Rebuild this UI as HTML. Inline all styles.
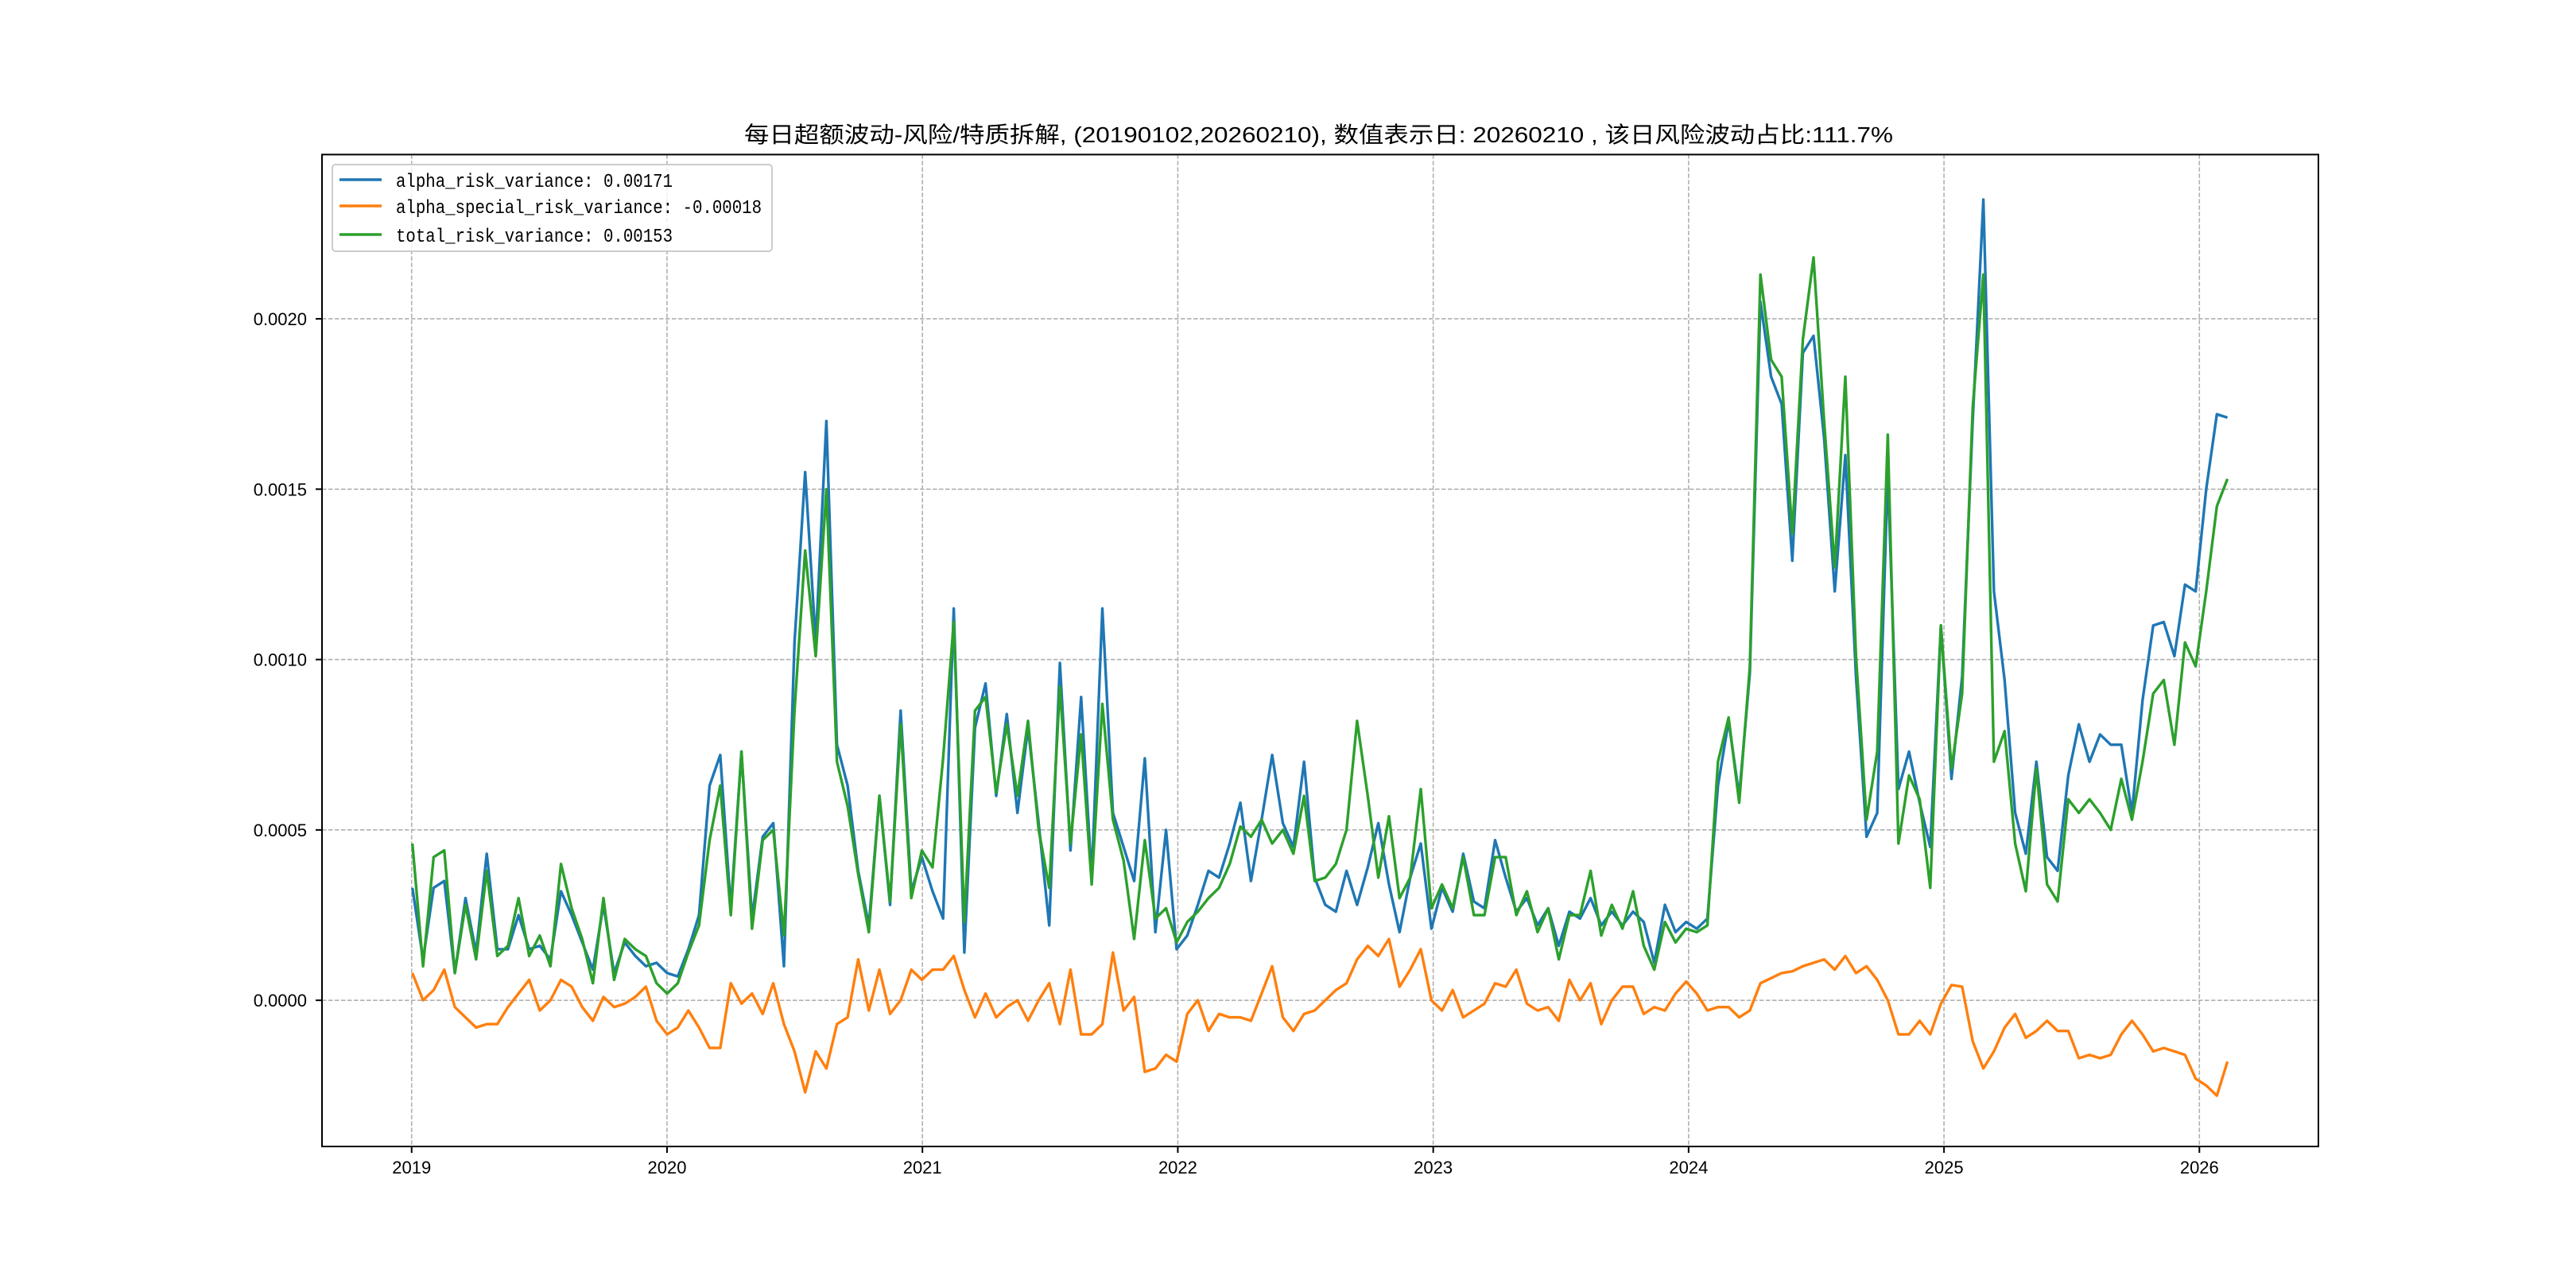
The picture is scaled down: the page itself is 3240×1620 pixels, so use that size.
<!DOCTYPE html>
<html><head><meta charset="utf-8"><title>每日超额波动</title>
<style>html,body{margin:0;padding:0;background:#fff;}svg{display:block;}</style></head>
<body>
<svg id="chart" xmlns="http://www.w3.org/2000/svg" width="3240" height="1620" viewBox="0 0 3240 1620">
<rect x="0" y="0" width="3240" height="1620" fill="#fff"/>
<text x="936" y="179" font-family="'Liberation Sans','Noto Sans CJK SC',sans-serif" font-size="28" textLength="1445" lengthAdjust="spacingAndGlyphs">每日超额波动-风险/特质拆解, (20190102,20260210),  数值表示日: 20260210 , 该日风险波动占比:111.7%</text>
<defs><clipPath id="plotclip"><rect x="405" y="194.4" width="2511" height="1247.6"/></clipPath></defs>
<g id="grid"></g>
<g id="series" clip-path="url(#plotclip)"></g>
<rect x="405" y="194.4" width="2511" height="1247.6" fill="none" stroke="#000" stroke-width="2"/>
<g id="ticks"></g>
<g>
 <rect x="418" y="207" width="553" height="109" rx="4" fill="#fff" fill-opacity="0.8" stroke="#cccccc" stroke-width="2"/>
 <line x1="427" y1="226" x2="480" y2="226" stroke="#1f77b4" stroke-width="3.4"/>
 <text x="498" y="235" font-family="'Liberation Mono',monospace" font-size="24" textLength="348" lengthAdjust="spacingAndGlyphs">alpha_risk_variance: 0.00171</text>
 <line x1="427" y1="259" x2="480" y2="259" stroke="#ff7f0e" stroke-width="3.4"/>
 <text x="498" y="268" font-family="'Liberation Mono',monospace" font-size="24" textLength="460" lengthAdjust="spacingAndGlyphs">alpha_special_risk_variance: -0.00018</text>
 <line x1="427" y1="295" x2="480" y2="295" stroke="#2ca02c" stroke-width="3.4"/>
 <text x="498" y="304" font-family="'Liberation Mono',monospace" font-size="24" textLength="348" lengthAdjust="spacingAndGlyphs">total_risk_variance: 0.00153</text>
</g>
</svg>
<script>
// values in units of 1e-4
const startYear = 2019.003;
const endYear = 2026.11;
const xTickLabels = ["2019","2020","2021","2022","2023","2024","2025","2026"];
const yTickValues = [0, 5, 10, 15, 20];
const yTickLabels = ["0.0000","0.0005","0.0010","0.0015","0.0020"];
const alphaRisk = [
3.3,1.2,3.3,3.5,0.8,3.0,1.4,4.3,1.5,1.5,2.5,1.5,1.6,1.2,3.2,2.5,1.7,0.9,2.8,0.8,1.7,1.3,1.0,1.1,
0.8,0.7,1.5,2.5,6.3,7.2,2.7,7.3,2.4,4.8,5.2,1.0,10.5,15.5,10.5,17.0,7.5,6.3,3.8,2.2,6.0,2.8,8.5,3.2,
4.2,3.2,2.4,11.5,1.4,8.0,9.3,6.0,8.4,5.5,8.0,5.2,2.2,9.9,4.4,8.9,3.6,11.5,5.5,4.5,3.5,7.1,2.0,5.0,
1.5,1.9,2.8,3.8,3.6,4.6,5.8,3.5,5.3,7.2,5.2,4.5,7.0,3.6,2.8,2.6,3.8,2.8,3.9,5.2,3.4,2.0,3.6,4.6,
2.1,3.3,2.6,4.3,2.9,2.7,4.7,3.6,2.6,3.0,2.2,2.7,1.6,2.6,2.4,3.0,2.2,2.6,2.2,2.6,2.3,1.1,2.8,2.0,
2.3,2.1,2.4,6.3,8.2,6.0,9.6,20.5,18.3,17.5,12.9,19.0,19.5,16.5,12.0,16.0,9.5,4.8,5.5,15.5,6.2,7.3,5.8,4.5,
11.0,6.5,9.5,17.0,23.5,12.0,9.4,5.5,4.3,7.0,4.2,3.8,6.6,8.1,7.0,7.8,7.5,7.5,5.5,8.8,11.0,11.1,10.1,12.2,
12.0,15.0,17.2,17.1];
const specialRisk = [
0.8,0,0.3,0.9,-0.2,-0.5,-0.8,-0.7,-0.7,-0.2,0.2,0.6,-0.3,0,0.6,0.4,-0.2,-0.6,0.1,-0.2,-0.1,0.1,0.4,-0.6,
-1.0,-0.8,-0.3,-0.8,-1.4,-1.4,0.5,-0.1,0.2,-0.4,0.5,-0.7,-1.5,-2.7,-1.5,-2.0,-0.7,-0.5,1.2,-0.3,0.9,-0.4,0.0,0.9,
0.6,0.9,0.9,1.3,0.3,-0.5,0.2,-0.5,-0.2,0.0,-0.6,0.0,0.5,-0.7,0.9,-1.0,-1.0,-0.7,1.4,-0.3,0.1,-2.1,-2.0,-1.6,
-1.8,-0.4,0.0,-0.9,-0.4,-0.5,-0.5,-0.6,0.2,1.0,-0.5,-0.9,-0.4,-0.3,0.0,0.3,0.5,1.2,1.6,1.3,1.8,0.4,0.9,1.5,
0.0,-0.3,0.3,-0.5,-0.3,-0.1,0.5,0.4,0.9,-0.1,-0.3,-0.2,-0.6,0.6,0.0,0.5,-0.7,0.0,0.4,0.4,-0.4,-0.2,-0.3,0.2,
0.55,0.2,-0.3,-0.2,-0.2,-0.5,-0.3,0.5,0.65,0.8,0.85,1.0,1.1,1.2,0.9,1.3,0.8,1.0,0.6,0.0,-1.0,-1.0,-0.6,-1.0,
-0.1,0.45,0.4,-1.2,-2.0,-1.5,-0.8,-0.4,-1.1,-0.9,-0.6,-0.9,-0.9,-1.7,-1.6,-1.7,-1.6,-1.0,-0.6,-1.0,-1.5,-1.4,-1.5,-1.6,
-2.3,-2.5,-2.8,-1.8];
const totalRisk = [
4.6,1.0,4.2,4.4,0.8,2.8,1.2,3.8,1.3,1.6,3.0,1.3,1.9,1.0,4.0,2.7,1.8,0.5,3.0,0.6,1.8,1.5,1.3,0.5,
0.2,0.5,1.4,2.2,4.7,6.3,2.5,7.3,2.1,4.7,5.0,1.9,8.5,13.2,10.1,15.0,7.0,5.7,3.7,2.0,6.0,2.9,8.1,3.0,
4.4,3.9,7.1,11.1,2.3,8.5,8.9,6.1,8.1,6.0,8.2,5.0,3.3,9.2,4.6,7.8,3.4,8.7,5.3,4.1,1.8,4.7,2.4,2.7,
1.7,2.3,2.6,3.0,3.3,4.0,5.1,4.8,5.3,4.6,5.0,4.3,6.0,3.5,3.6,4.0,5.0,8.2,6.0,3.6,5.4,3.0,3.6,6.2,
2.7,3.4,2.7,4.2,2.5,2.5,4.2,4.2,2.5,3.2,2.0,2.7,1.2,2.5,2.5,3.8,1.9,2.8,2.1,3.2,1.6,0.9,2.3,1.7,
2.1,2.0,2.2,7.0,8.3,5.8,9.8,21.3,18.8,18.3,13.7,19.4,21.8,17.0,12.7,18.3,10.1,5.3,7.3,16.6,4.6,6.6,5.9,3.3,
11.0,6.8,9.0,17.4,21.3,7.0,7.9,4.6,3.2,6.8,3.4,2.9,5.9,5.5,5.9,5.5,5.0,6.5,5.3,7.0,9.0,9.4,7.5,10.5,
9.8,12.0,14.5,15.3];

const NS = "http://www.w3.org/2000/svg";
const L = 405, R = 2916, T = 194.4, B = 1442;
const xMin = 2018.649, xMax = 2026.466, yMin = -4.29, yMax = 24.82;
function xs(yr){ return L + (yr - xMin) / (xMax - xMin) * (R - L); }
function ys(v){ return B - (v - yMin) / (yMax - yMin) * (B - T); }
const n = totalRisk.length;
const dates = [];
for (let i = 0; i < n; i++) dates.push(startYear + (endYear - startYear) * i / (n - 1));

const grid = document.getElementById('grid');
const ticks = document.getElementById('ticks');
function mk(tag, attrs, parent){ const e = document.createElementNS(NS, tag); for (const k in attrs) e.setAttribute(k, attrs[k]); parent.appendChild(e); return e; }

xTickLabels.forEach((lab) => {
  const x = xs(parseInt(lab, 10));
  const g = mk('line', {x1:x, y1:T, x2:x, y2:B, stroke:'#b0b0b0', 'stroke-width':1.6, 'stroke-dasharray':'5.5,2.5'}, grid);
  
  
  const t = mk('line', {x1:x, y1:B, x2:x, y2:B+8, stroke:'#000', 'stroke-width':2}, ticks);
  
  
  const tx = mk('text', {x:x, y:1476, 'text-anchor':'middle', 'font-family':"'Liberation Sans',sans-serif", 'font-size':22}, ticks);
  tx.textContent = lab;
  
  
});
yTickValues.forEach((v, i) => {
  const y = ys(v);
  const g = mk('line', {x1:L, y1:y, x2:R, y2:y, stroke:'#b0b0b0', 'stroke-width':1.6, 'stroke-dasharray':'5.5,2.5'}, grid);
  
  
  const t = mk('line', {x1:L-8, y1:y, x2:L, y2:y, stroke:'#000', 'stroke-width':2}, ticks);
  
  
  const tx = mk('text', {x:386, y:y+8, 'text-anchor':'end', 'font-family':"'Liberation Sans',sans-serif", 'font-size':22}, ticks);
  tx.textContent = yTickLabels[i];
  
  
});

const seriesG = document.getElementById('series');
function drawLine(vals, color, name){
  let d = '';
  for (let i = 0; i < vals.length; i++) d += (i ? 'L' : 'M') + xs(dates[i]).toFixed(1) + ',' + ys(vals[i]).toFixed(1);
  const p = mk('path', {d:d, fill:'none', stroke:color, 'stroke-width':3.4, 'stroke-linejoin':'round'}, seriesG);
  
  
}
drawLine(alphaRisk, '#1f77b4', 'alpha-risk-line');
drawLine(specialRisk, '#ff7f0e', 'special-risk-line');
drawLine(totalRisk, '#2ca02c', 'total-risk-line');
</script>
</body></html>
